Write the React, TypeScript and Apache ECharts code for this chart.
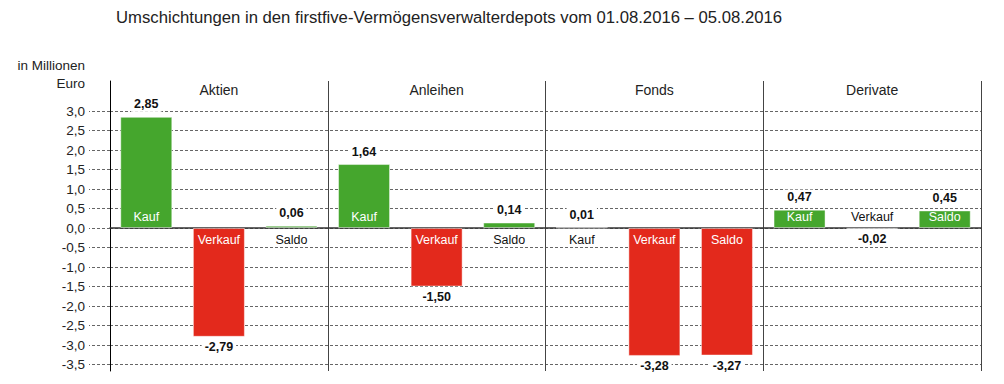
import React, { useEffect, useRef } from 'react';
import * as echarts from 'echarts';

const titleText = 'Umschichtungen in den firstfive-Vermögensverwalterdepots vom 01.08.2016 – 05.08.2016';
const unitLines = ['in Millionen', 'Euro'];
const groups = ['Aktien', 'Anleihen', 'Fonds', 'Derivate'];
const barNames = ['Kauf', 'Verkauf', 'Saldo'];
const aktien = [2.85, -2.79, 0.06];
const anleihen = [1.64, -1.5, 0.14];
const fonds = [0.01, -3.28, -3.27];
const derivate = [0.47, -0.02, 0.45];
const yMin = -3.5;
const yMax = 3.0;
const yStep = 0.5;

const GREEN = '#45a62d';
const RED = '#e3291c';
const FONT = '"Liberation Sans", Arial, sans-serif';

export default function App() {
  const ref = useRef<HTMLDivElement>(null);
  useEffect(() => {
    document.body.style.margin = '0';
    const chart = echarts.init(ref.current!, null, { renderer: 'svg' });
    const groupValues = [aktien, anleihen, fonds, derivate];
    const values: number[] = groupValues.flat();
    const names: string[] = groups.flatMap(() => barNames);
    const cats: string[] = groups.flatMap((g) => barNames.map((n) => g + ' ' + n));
    const fmt = (v: number) => v.toFixed(2).replace('.', ',');

    const valueData = values.map((v) => ({
      value: v,
      itemStyle: { color: v >= 0 ? GREEN : RED },
      label: { position: v >= 0 ? 'top' : 'bottom', distance: v >= 0 ? 5 : 3 },
    }));
    const nameData = values.map((v) => {
      const big = Math.abs(v) >= 0.3;
      let position: string;
      if (v >= 0) position = big ? 'insideBottom' : 'bottom';
      else position = big ? 'insideTop' : 'top';
      return {
        value: v,
        label: { position, color: big ? '#fff' : '#111', distance: 5 },
      };
    });

    chart.setOption({
      animation: false,
      textStyle: { fontFamily: FONT },
      title: {
        text: titleText,
        left: 116,
        top: 9,
        padding: 0,
        textStyle: { fontSize: 16.7, fontWeight: 'normal', color: '#222', fontFamily: FONT },
      },
      graphic: unitLines.map((t, i) => ({
        type: 'text',
        x: 85,
        y: 58 + i * 18,
        style: {
          text: t,
          align: 'right',
          textAlign: 'right',
          verticalAlign: 'top',
          fontSize: 13.5,
          fill: '#222',
          fontFamily: FONT,
        },
      })),
      grid: [
        { left: 110, right: 23, top: 111, bottom: 19.5 },
        { left: 110, right: 23, top: 81, bottom: 13 },
      ],
      xAxis: [
        {
          type: 'category',
          gridIndex: 0,
          data: cats,
          axisLine: { show: true, onZero: true, lineStyle: { color: '#333', width: 1.5 } },
          axisTick: { show: false },
          axisLabel: { show: false },
          splitLine: { show: false },
        },
        {
          type: 'category',
          gridIndex: 1,
          position: 'top',
          data: groups,
          axisLine: { show: false },
          axisTick: { show: false },
          axisLabel: { show: true, inside: true, margin: 2, fontSize: 14, color: '#222', fontFamily: FONT },
          splitLine: { show: true, lineStyle: { color: '#444', width: 1 } },
        },
      ],
      yAxis: [
        {
          type: 'value',
          gridIndex: 0,
          min: yMin,
          max: yMax,
          interval: yStep,
          axisLine: { show: false },
          axisTick: { show: true, length: 21, lineStyle: { color: '#666', type: [3, 2] } },
          axisLabel: {
            margin: 25,
            fontSize: 13.5,
            color: '#222',
            fontFamily: FONT,
            formatter: (v: number) => v.toFixed(1).replace('.', ','),
          },
          splitLine: { show: true, lineStyle: { color: '#666', type: [3, 2], width: 1 } },
        },
        {
          type: 'value',
          gridIndex: 1,
          min: 0,
          max: 1,
          axisLine: { show: true, lineStyle: { color: '#000', width: 1 } },
          axisTick: { show: false },
          axisLabel: { show: false },
          splitLine: { show: false },
        },
      ],
      series: [
        {
          type: 'bar',
          xAxisIndex: 0,
          yAxisIndex: 0,
          barWidth: 52,
          data: valueData,
          itemStyle: { borderColor: 'rgba(255,255,255,0.45)', borderWidth: 1 },
          label: {
            show: true,
            formatter: (p: any) => fmt(p.value),
            fontWeight: 'bold',
            fontSize: 12.5,
            color: '#111',
            backgroundColor: '#fff',
            padding: [1, 3],
            fontFamily: FONT,
          },
          z: 2,
        },
        {
          type: 'bar',
          xAxisIndex: 0,
          yAxisIndex: 0,
          barWidth: 52,
          barGap: '-100%',
          silent: true,
          data: nameData,
          itemStyle: { color: 'rgba(0,0,0,0)' },
          label: {
            show: true,
            formatter: (p: any) => names[p.dataIndex],
            fontSize: 12.5,
            fontFamily: FONT,
          },
          z: 3,
        },
      ],
    });
    return () => chart.dispose();
  }, []);
  return <div ref={ref} style={{ width: 1004, height: 384 }} />;
}
